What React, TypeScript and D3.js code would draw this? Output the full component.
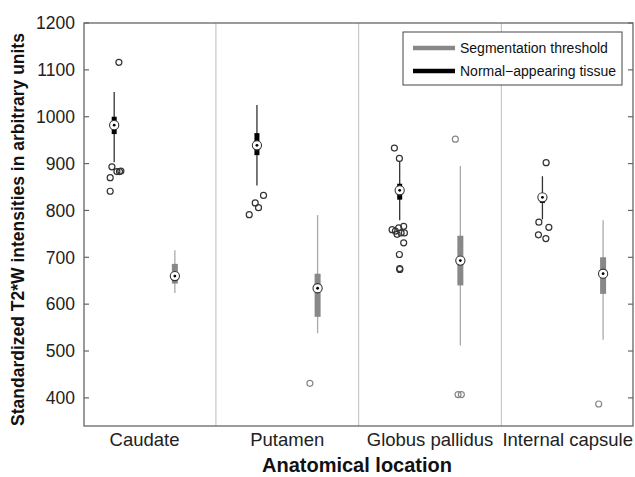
import * as d3 from "d3";

// Box stats: [lower whisker, q1, median, q3, upper whisker]
const categories = ["Caudate", "Putamen", "Globus pallidus", "Internal capsule"];
const normalStats = [
  [903, 963, 982, 1000, 1053],
  [853, 918, 939, 965, 1025],
  [779, 823, 843, 857, 904],
  [781, 816, 828, 834, 873],
];
const thresholdStats = [
  [624, 644, 660, 686, 715],
  [538, 573, 634, 665, 790],
  [512, 640, 693, 746, 895],
  [524, 622, 665, 700, 779],
];
// outliers per category, with horizontal jitter (category units)
const normalOutliers = [
  [1116, 893, 870, 841, 883, 883, 884],
  [832, 816, 806, 791],
  [933, 911, 763, 759, 756, 766, 749, 752, 752, 731, 706, 676, 674],
  [902, 775, 764, 748, 740],
];
const normalJitter = [
  [0.033, -0.016, -0.028, -0.028, 0.019, 0.037, 0.047],
  [0.046, -0.012, 0.011, -0.054],
  [-0.037, -0.002, -0.007, -0.053, -0.03, 0.028, -0.018, 0.01, 0.033, 0.028, -0.002, 0, 0.001],
  [0.026, -0.025, 0.045, -0.028, 0.024],
];
const thresholdOutliers = [[], [431], [952, 407, 407], [387]];
const thresholdJitter = [[], [-0.054], [-0.035, -0.016, 0.007], [-0.031]];
const yTicks = [400, 500, 600, 700, 800, 900, 1000, 1100, 1200];
const legendItems = ["Segmentation threshold", "Normal\u2212appearing tissue"];

const W = 635;
const H = 477;
const FONT = "'Liberation Sans', Arial, Helvetica, sans-serif";
const plot = { left: 84, right: 633, top: 23, bottom: 426 };
const OFFSET = 0.2125;

export default function App() {
  const x = d3.scaleLinear().domain([-0.424, 3.422]).range([plot.left, plot.right]);
  const y = d3.scaleLinear().domain([340, 1200]).range([plot.bottom, plot.top]);

  const series = [
    { stats: normalStats, outliers: normalOutliers, jitter: normalJitter, dx: -OFFSET,
      box: "#000", whisker: "#333", boxW: 5, outStroke: "#333" },
    { stats: thresholdStats, outliers: thresholdOutliers, jitter: thresholdJitter, dx: OFFSET,
      box: "#888", whisker: "#aaa", boxW: 6, outStroke: "#888" },
  ];

  return (
    <svg width={W} height={H} style={{ position: "absolute", left: 0, top: 0, background: "#fff" }}
      fontFamily={FONT}>
      <rect x={0} y={0} width={W} height={H} fill="#fff" />

      {/* group separators */}
      {categories.slice(1).map((_, i) => (
        <line key={i} x1={x(i + 0.5)} x2={x(i + 0.5)} y1={plot.top} y2={plot.bottom}
          stroke="#c8c8c8" strokeWidth={1.2} />
      ))}

      {/* boxes */}
      {series.map((s, si) => (
        <g key={si}>
          {s.stats.map((d, i) => {
            const cx = x(i + s.dx);
            return (
              <g key={i}>
                <line x1={cx} x2={cx} y1={y(d[0])} y2={y(d[4])} stroke={s.whisker} strokeWidth={1.3} />
                <line x1={cx} x2={cx} y1={y(d[1])} y2={y(d[3])} stroke={s.box} strokeWidth={s.boxW} />
                {s.outliers[i].map((v, j) => (
                  <circle key={j} cx={x(i + s.dx + s.jitter[i][j])} cy={y(v)} r={3}
                    fill="none" stroke={s.outStroke} strokeWidth={1.2} />
                ))}
                <circle cx={cx} cy={y(d[2])} r={4.6} fill="#fff" stroke="#333" strokeWidth={1.1} />
                <circle cx={cx} cy={y(d[2])} r={1.4} fill="#000" />
              </g>
            );
          })}
        </g>
      ))}

      {/* frame */}
      <rect x={plot.left} y={plot.top} width={plot.right - plot.left} height={plot.bottom - plot.top}
        fill="none" stroke="#666" strokeWidth={1.3} />

      {/* y ticks */}
      {yTicks.map((t) => (
        <g key={t}>
          <line x1={plot.left} x2={plot.left + 5} y1={y(t)} y2={y(t)} stroke="#666" strokeWidth={1.2} />
          <line x1={plot.right - 5} x2={plot.right} y1={y(t)} y2={y(t)} stroke="#666" strokeWidth={1.2} />
          <text x={plot.left - 9} y={y(t)} dy="0.36em" textAnchor="end" fontSize={17.5} fill="#222">{t}</text>
        </g>
      ))}

      {/* x labels (last one kept inside the figure) */}
      {categories.map((c, i) => {
        const last = i === categories.length - 1;
        return (
          <text key={c} x={last ? plot.right : x(i)} y={446} textAnchor={last ? "end" : "middle"}
            fontSize={18.5} fill="#222">{c}</text>
        );
      })}
      <text x={357} y={472} textAnchor="middle" fontSize={20}
        fontWeight="bold" fill="#111">Anatomical location</text>
      <text transform={`translate(24,${(plot.top + plot.bottom) / 2 + 5}) rotate(-90)`} textAnchor="middle"
        fontSize={17.5} fontWeight="bold" fill="#111">Standardized T2*W intensities in arbitrary units</text>

      {/* legend */}
      <g>
        <rect x={403} y={32} width={219} height={53} fill="#fff" stroke="#444" strokeWidth={1} />
        {legendItems.map((label, i) => (
          <g key={label}>
            <line x1={413} x2={455} y1={48 + i * 23} y2={48 + i * 23} stroke={i === 0 ? "#888" : "#000"}
              strokeWidth={4.5} />
            <text x={460} y={48 + i * 23} dy="0.36em" fontSize={14} fill="#111">{label}</text>
          </g>
        ))}
      </g>
    </svg>
  );
}
